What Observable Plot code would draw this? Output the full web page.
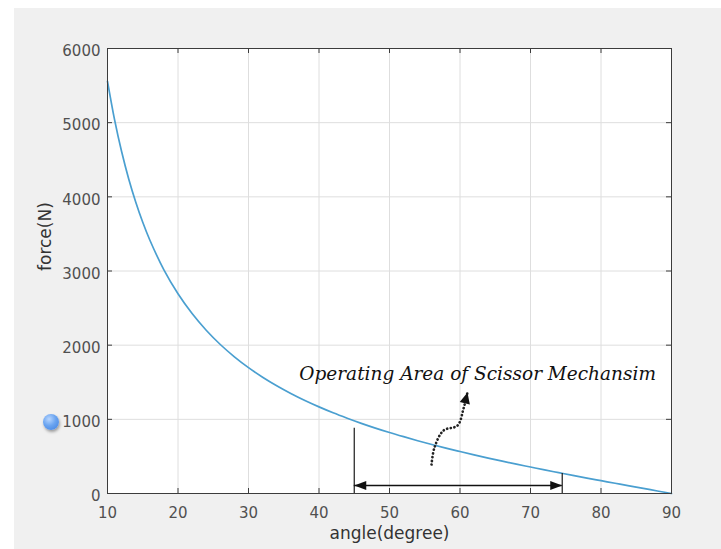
<!DOCTYPE html>
<html>
<head>
<meta charset="utf-8">
<script src="https://cdn.jsdelivr.net/npm/d3@7"></script>
<script src="https://cdn.jsdelivr.net/npm/@observablehq/plot@0.6"></script>
<style>
  html, body { margin: 0; padding: 0; background: #ffffff; }
  #wrap { position: relative; width: 721px; height: 549px; overflow: hidden; }
  #bg { position: absolute; left: 14px; top: 8px; width: 707px; height: 541px; background: #f0f0f0; }
  #chart { position: absolute; left: 0; top: 0; }
  #blob { position: absolute; left: 43px; top: 414px; width: 16px; height: 16px; border-radius: 50%;
          background: radial-gradient(circle at 38% 32%, #b8d6ff 0%, #6aa4f0 45%, #3f7fe0 100%);
          box-shadow: 1px 2px 3px rgba(0,0,0,0.35); }
</style>
</head>
<body>
<div id="wrap"><div id="bg"></div><div id="chart"></div><div id="blob"></div></div>
<script>
// ---- data ----
const angle = [10, 11, 12, 13, 14, 15, 16, 18, 20, 22, 24, 26, 28, 30, 32, 34, 36, 38, 40,
               42, 44, 46, 48, 50, 52, 54, 56, 58, 60, 62, 64, 66, 68, 70, 72, 74, 76, 78,
               80, 82, 84, 86, 88, 90];
const force = [5558, 5042, 4611, 4245, 3931, 3657, 3418, 3016, 2693, 2426, 2201, 2009, 1843, 1697,
               1568, 1453, 1349, 1254, 1168, 1088, 1015, 946, 882, 822, 766, 712, 661, 612, 566,
               521, 478, 436, 396, 357, 318, 281, 244, 208, 173, 138, 103, 69, 34, 0];

const xTicks = [10, 20, 30, 40, 50, 60, 70, 80, 90];
const yTicks = [0, 1000, 2000, 3000, 4000, 5000, 6000];

// operating area annotation
const rangeAngles = [45, 74.5];
const rangeTops = [880, 270];
const arrowLevel = 108;
const labelText = ["Operating Area of Scissor Mechansim"];
const labelAngle = 62.5;
const labelForce = 1610;
// dotted curved pointer
const pointerAngle = [55.96, 56.38, 57.66, 59.65, 60.5, 61.06];
const pointerForce = [391, 620, 849, 917, 1146, 1362];

// ---- build ----
const curve = angle.map((a, i) => ({a, f: force[i]}));
const pointer = pointerAngle.map((a, i) => ({a, f: pointerForce[i]}));
const range = rangeAngles.map((a, i) => ({a, top: rangeTops[i]}));

// arrowhead symbol: tip at origin, pointing up
const head = (len, half) => ({
  draw(ctx) { ctx.moveTo(0, 0); ctx.lineTo(-half, len); ctx.lineTo(half, len); ctx.closePath(); }
});

const W = 721, H = 549, ML = 107, MR = 50, MT = 48, MB = 56;
const pw = W - ML - MR, ph = H - MT - MB;
const tick = 5;

const chart = Plot.plot({
  width: W, height: H,
  marginLeft: ML, marginRight: MR, marginTop: MT, marginBottom: MB,
  style: {background: "transparent", fontFamily: "DejaVu Sans, sans-serif"},
  x: {domain: [10, 90], ticks: xTicks, label: null},
  y: {domain: [0, 6000], ticks: yTicks, label: null},
  marks: [
    Plot.frame({fill: "white"}),
    Plot.ruleX(xTicks.slice(1, -1), {x: d => d, stroke: "#dedede", strokeWidth: 1}),
    Plot.ruleY(yTicks.slice(1, -1), {y: d => d, stroke: "#dedede", strokeWidth: 1}),
    // curve
    Plot.line(curve, {x: "a", y: "f", curve: "catmull-rom", stroke: "#4a9fd0", strokeWidth: 1.7}),
    // range boundaries
    Plot.ruleX(range, {x: "a", y1: 0, y2: "top", stroke: "#1a1a1a", strokeWidth: 1.2}),
    // double arrow shaft
    Plot.ruleY([arrowLevel], {y: d => d, x1: rangeAngles[0], x2: rangeAngles[1], stroke: "#111", strokeWidth: 1.3}),
    Plot.dot([{a: rangeAngles[0], r: -90}, {a: rangeAngles[1], r: 90}],
      {x: "a", y: arrowLevel, rotate: "r", symbol: head(12, 4.6), r: 4, fill: "#111", stroke: "none"}),
    // dotted pointer
    Plot.line(pointer, {x: "a", y: "f", curve: "catmull-rom", stroke: "#222", strokeWidth: 2.7,
      strokeDasharray: "0.1,3.6", strokeLinecap: "round"}),
    Plot.dot([pointer[pointer.length - 1]], {x: "a", y: "f", rotate: 14, symbol: head(11, 5.2), r: 4,
      fill: "#111", stroke: "none"}),
    // label
    Plot.text(labelText, {x: labelAngle, y: labelForce, text: d => d, fontFamily: "DejaVu Serif, serif",
      fontStyle: "italic", fontSize: 18.5, fill: "#111", textAnchor: "middle", letterSpacing: "0.6px"}),
    // frame & inward ticks
    Plot.frame({stroke: "#3c3c3c", strokeWidth: 1}),
    Plot.tickX(xTicks, {x: d => d, insetTop: ph - tick, stroke: "#3c3c3c"}),
    Plot.tickX(xTicks, {x: d => d, insetBottom: ph - tick, stroke: "#3c3c3c"}),
    Plot.tickY(yTicks, {y: d => d, insetRight: pw - tick, stroke: "#3c3c3c"}),
    Plot.tickY(yTicks, {y: d => d, insetLeft: pw - tick, stroke: "#3c3c3c"}),
    // axes
    Plot.axisX(xTicks, {tickSize: 0, tickPadding: 14, fontSize: 15, fill: "#505050", label: null, tickFormat: d => String(d)}),
    Plot.axisY(yTicks, {tickSize: 0, tickPadding: 7, fontSize: 15, fill: "#505050", label: null, dy: 3, tickFormat: d => String(d)}),
    Plot.text(["angle(degree)"], {frameAnchor: "bottom", dy: 45, text: d => d, fontSize: 17, fill: "#333"}),
    Plot.text(["force(N)"], {frameAnchor: "left", dx: -62, rotate: -90, text: d => d, fontSize: 17, fill: "#333"})
  ]
});
document.getElementById("chart").appendChild(chart);
</script>
</body>
</html>
